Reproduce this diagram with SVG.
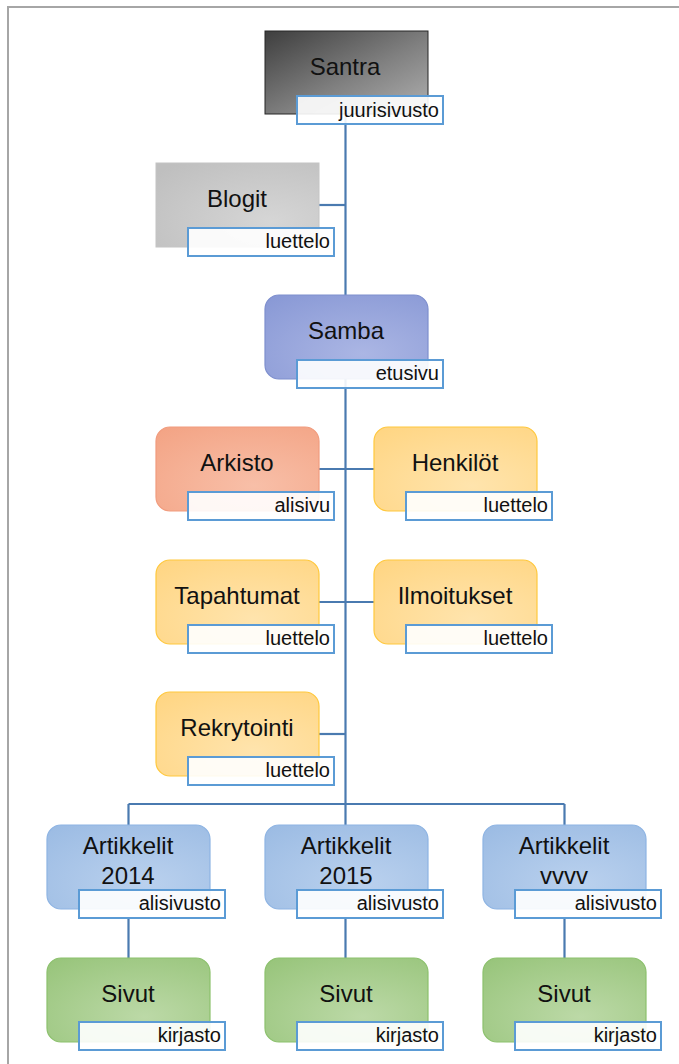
<svg xmlns="http://www.w3.org/2000/svg" width="679" height="1064" viewBox="0 0 679 1064">
<style>
.title{font-family:"Liberation Sans",Arial,sans-serif;font-size:24px;fill:#111;text-anchor:middle}
.lt{font-family:"Liberation Sans",Arial,sans-serif;font-size:20px;fill:#111;text-anchor:end}
.lab{fill:#fff;fill-opacity:0.9;stroke:#5b9bd5;stroke-width:2}
.con{fill:none;stroke:#4a7ab0;stroke-width:2.2}
</style>
<defs>
<linearGradient id="gDark" x1="0" y1="0" x2="1" y2="1"><stop offset="0" stop-color="#3e3e3e"/><stop offset="0.55" stop-color="#808080"/><stop offset="1" stop-color="#b0b0b0"/></linearGradient>
<radialGradient id="gGray" cx="0.7" cy="0.7" r="0.9"><stop offset="0" stop-color="#d6d6d6"/><stop offset="1" stop-color="#bfbfbf"/></radialGradient>
<radialGradient id="gPurp" cx="0.6" cy="0.7" r="0.9"><stop offset="0" stop-color="#abb6e4"/><stop offset="1" stop-color="#8898d5"/></radialGradient>
<radialGradient id="gOrg" cx="0.6" cy="0.7" r="0.9"><stop offset="0" stop-color="#f8bfa8"/><stop offset="1" stop-color="#f3a384"/></radialGradient>
<radialGradient id="gYel" cx="0.6" cy="0.7" r="0.9"><stop offset="0" stop-color="#ffe4ad"/><stop offset="1" stop-color="#ffd582"/></radialGradient>
<radialGradient id="gBlu" cx="0.6" cy="0.7" r="0.9"><stop offset="0" stop-color="#bad1ee"/><stop offset="1" stop-color="#9bbbe3"/></radialGradient>
<radialGradient id="gGrn" cx="0.6" cy="0.7" r="0.9"><stop offset="0" stop-color="#bcd9a7"/><stop offset="1" stop-color="#97c47a"/></radialGradient>
</defs>
<rect x="8" y="7" width="700" height="1100" fill="none" stroke="#a6a6a6" stroke-width="2"/>
<g id="connectors">
<path class="con" d="M345.5 113 V804"/>
<path class="con" d="M319 205 H345.5"/>
<path class="con" d="M319 469 H374"/>
<path class="con" d="M319 602 H374"/>
<path class="con" d="M319 734 H345.5"/>
<path class="con" d="M128.5 804 H564.5"/>
<path class="con" d="M128.5 804 V825 M345.5 804 V825 M564.5 804 V825"/>
<path class="con" d="M128.5 918 V958 M345.5 918 V958 M564.5 918 V958"/>
</g>
<g id="santra">
<rect x="265" y="31" width="163" height="83" fill="url(#gDark)" stroke="#262626" stroke-width="1"/>
<text class="title" x="345" y="75">Santra</text>
<rect class="lab" x="297" y="96" width="146" height="28"/>
<text class="lt" x="439" y="117">juurisivusto</text>
</g>
<g id="blogit">
<rect x="156" y="163" width="163" height="84" fill="url(#gGray)" stroke="#c4c4c4" stroke-width="1"/>
<text class="title" x="237" y="207">Blogit</text>
<rect class="lab" x="188" y="228" width="146" height="28"/>
<text class="lt" x="330" y="248">luettelo</text>
</g>
<g id="samba">
<rect x="265" y="295" width="163" height="84" rx="14" fill="url(#gPurp)" stroke="#7e8fce" stroke-width="1.2"/>
<text class="title" x="346" y="339">Samba</text>
<rect class="lab" x="297" y="360" width="146" height="28"/>
<text class="lt" x="439" y="380">etusivu</text>
</g>
<g id="arkisto">
<rect x="156" y="427" width="163" height="84" rx="14" fill="url(#gOrg)" stroke="#f19c7e" stroke-width="1.2"/>
<text class="title" x="237" y="471">Arkisto</text>
<rect class="lab" x="188" y="492" width="146" height="28"/>
<text class="lt" x="330" y="512">alisivu</text>
</g>
<g id="henkilot">
<rect x="374" y="427" width="163" height="84" rx="14" fill="url(#gYel)" stroke="#ffc83d" stroke-width="1.2"/>
<text class="title" x="455" y="471">Henkilöt</text>
<rect class="lab" x="406" y="492" width="146" height="28"/>
<text class="lt" x="548" y="512">luettelo</text>
</g>
<g id="tapahtumat">
<rect x="156" y="560" width="163" height="84" rx="14" fill="url(#gYel)" stroke="#ffc83d" stroke-width="1.2"/>
<text class="title" x="237" y="604">Tapahtumat</text>
<rect class="lab" x="188" y="625" width="146" height="28"/>
<text class="lt" x="330" y="645">luettelo</text>
</g>
<g id="ilmoitukset">
<rect x="374" y="560" width="163" height="84" rx="14" fill="url(#gYel)" stroke="#ffc83d" stroke-width="1.2"/>
<text class="title" x="455" y="604">Ilmoitukset</text>
<rect class="lab" x="406" y="625" width="146" height="28"/>
<text class="lt" x="548" y="645">luettelo</text>
</g>
<g id="rekrytointi">
<rect x="156" y="692" width="163" height="84" rx="14" fill="url(#gYel)" stroke="#ffc83d" stroke-width="1.2"/>
<text class="title" x="237" y="736">Rekrytointi</text>
<rect class="lab" x="188" y="757" width="146" height="28"/>
<text class="lt" x="330" y="777">luettelo</text>
</g>
<g id="artikkelit2014">
<rect x="47" y="825" width="163" height="84" rx="14" fill="url(#gBlu)" stroke="#8eb4e3" stroke-width="1.2"/>
<text class="title" x="128" y="854">Artikkelit</text>
<text class="title" x="128" y="884">2014</text>
<rect class="lab" x="79" y="890" width="146" height="28"/>
<text class="lt" x="221" y="910">alisivusto</text>
</g>
<g id="artikkelit2015">
<rect x="265" y="825" width="163" height="84" rx="14" fill="url(#gBlu)" stroke="#8eb4e3" stroke-width="1.2"/>
<text class="title" x="346" y="854">Artikkelit</text>
<text class="title" x="346" y="884">2015</text>
<rect class="lab" x="297" y="890" width="146" height="28"/>
<text class="lt" x="439" y="910">alisivusto</text>
</g>
<g id="artikkelitvvvv">
<rect x="483" y="825" width="163" height="84" rx="14" fill="url(#gBlu)" stroke="#8eb4e3" stroke-width="1.2"/>
<text class="title" x="564" y="854">Artikkelit</text>
<text class="title" x="564" y="884">vvvv</text>
<rect class="lab" x="515" y="890" width="146" height="28"/>
<text class="lt" x="657" y="910">alisivusto</text>
</g>
<g id="sivut2014">
<rect x="47" y="958" width="163" height="84" rx="14" fill="url(#gGrn)" stroke="#8cc16d" stroke-width="1.2"/>
<text class="title" x="128" y="1002">Sivut</text>
<rect class="lab" x="79" y="1022" width="146" height="28"/>
<text class="lt" x="221" y="1042">kirjasto</text>
</g>
<g id="sivut2015">
<rect x="265" y="958" width="163" height="84" rx="14" fill="url(#gGrn)" stroke="#8cc16d" stroke-width="1.2"/>
<text class="title" x="346" y="1002">Sivut</text>
<rect class="lab" x="297" y="1022" width="146" height="28"/>
<text class="lt" x="439" y="1042">kirjasto</text>
</g>
<g id="sivutvvvv">
<rect x="483" y="958" width="163" height="84" rx="14" fill="url(#gGrn)" stroke="#8cc16d" stroke-width="1.2"/>
<text class="title" x="564" y="1002">Sivut</text>
<rect class="lab" x="515" y="1022" width="146" height="28"/>
<text class="lt" x="657" y="1042">kirjasto</text>
</g>
</svg>
